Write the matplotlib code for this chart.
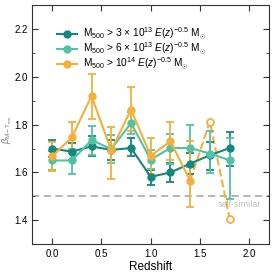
import numpy as np
import matplotlib
matplotlib.use("Agg")
import matplotlib.pyplot as plt
from matplotlib.lines import Line2D

plt.rcParams['font.family'] = ['Liberation Sans', 'DejaVu Sans']
plt.rcParams['mathtext.fontset'] = 'custom'
plt.rcParams['mathtext.rm'] = 'Liberation Sans'
plt.rcParams['mathtext.it'] = 'Liberation Sans:italic'
plt.rcParams['mathtext.bf'] = 'Liberation Sans:bold'

redshift = [0.0, 0.2, 0.4, 0.6, 0.8, 1.0, 1.2, 1.4, 1.6, 1.8]

beta_3e13 = [1.700, 1.687, 1.709, 1.694, 1.702, 1.582, 1.600, 1.637, 1.672, 1.702]
lo_3e13 = [0.035, 0.035, 0.040, 0.040, 0.035, 0.035, 0.040, 0.045, 0.060, 0.075]
hi_3e13 = [0.035, 0.035, 0.045, 0.040, 0.040, 0.030, 0.040, 0.045, 0.055, 0.065]

beta_6e13 = [1.650, 1.650, 1.735, 1.698, 1.806, 1.654, 1.702, 1.702, 1.679, 1.651]
lo_6e13 = [0.040, 0.058, 0.060, 0.060, 0.045, 0.040, 0.065, 0.080, 0.080, 0.163]
hi_6e13 = [0.040, 0.050, 0.060, 0.060, 0.045, 0.040, 0.060, 0.096, 0.092, 0.093]

beta_1e14 = [1.667, 1.746, 1.919, 1.692, 1.862, 1.670, 1.730, 1.566]
lo_1e14 = [0.060, 0.065, 0.095, 0.120, 0.090, 0.075, 0.080, 0.108]
hi_1e14 = [0.060, 0.066, 0.091, 0.096, 0.095, 0.074, 0.082, 0.164]
z_1e14_open = [1.4, 1.6, 1.8]
beta_1e14_open = [1.566, 1.812, 1.408]

labels = [r'M$_{500}$ > 3 $\times$ 10$^{13}$ $E(z)^{-0.5}$ M$_{\odot}$',
          r'M$_{500}$ > 6 $\times$ 10$^{13}$ $E(z)^{-0.5}$ M$_{\odot}$',
          r'M$_{500}$ > 10$^{14}$ $E(z)^{-0.5}$ M$_{\odot}$']

c1 = '#15877f'
c2 = '#52c2a2'
c3 = '#f4b03a'

fig = plt.figure(figsize=(2.74, 2.74), dpi=100)
ax = fig.add_axes([0.118, 0.108, 0.864, 0.875])

ax.axhline(1.5, color='#b0b0b0', ls=(0, (4, 2.5)), lw=1.3, zorder=0)
ax.text(2.12, 1.467, 'self-similar', color='#c0c0c0', fontsize=6.5,
        ha='right', va='center', zorder=0)

kw = dict(marker='o', ms=5, lw=1.5, capsize=3, capthick=1.3, elinewidth=1.3)
ax.errorbar(redshift, beta_3e13, yerr=[lo_3e13, hi_3e13], color=c1, **kw)
ax.errorbar(redshift, beta_6e13, yerr=[lo_6e13, hi_6e13], color=c2, **kw)
ax.errorbar(redshift[:8], beta_1e14, yerr=[lo_1e14, hi_1e14], color=c3, **kw)
ax.plot(z_1e14_open, beta_1e14_open, color=c3, ls='--', lw=1.5, zorder=1)
ax.plot(z_1e14_open[1:], beta_1e14_open[1:], ls='none', marker='o', ms=5,
        mfc='white', mec=c3, mew=1.3)

ax.set_xlim(-0.2, 2.2)
ax.set_ylim(1.3, 2.3)
ax.set_xticks([0.0, 0.5, 1.0, 1.5, 2.0])
ax.set_yticks([1.4, 1.6, 1.8, 2.0, 2.2])
ax.set_yticks(np.arange(1.3, 2.31, 0.1), minor=True)
ax.tick_params(which='both', direction='in', top=True, right=True,
               labelsize=7, color='#333333')
ax.tick_params(which='major', length=4)
ax.tick_params(which='minor', length=2.5)
for s in ax.spines.values():
    s.set_color('#333333')

ax.set_xlabel('Redshift', fontsize=8.5, labelpad=1)
ax.set_ylabel(r'$\beta_{\rm M-T_{mw}}$', fontsize=6.5, color='#777777')
ax.yaxis.set_label_coords(-0.077, 0.48)

handles = [Line2D([], [], color=c, marker='o', ms=5, lw=1.5) for c in (c1, c2, c3)]
ax.legend(handles, labels, loc='upper left', bbox_to_anchor=(0.085, 0.93),
          frameon=False, fontsize=7.3, handlelength=2.0, labelspacing=-0.1,
          handletextpad=0.6, borderaxespad=0)

fig.savefig('out.png', dpi=100)
